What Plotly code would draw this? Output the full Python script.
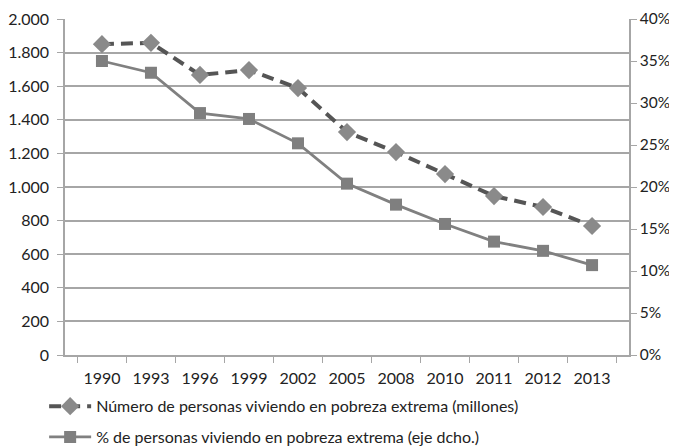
import plotly.graph_objects as go

years = ["1990", "1993", "1996", "1999", "2002", "2005", "2008", "2010", "2011", "2012", "2013"]
personas_millones = [1850, 1858, 1667, 1696, 1589, 1327, 1208, 1077, 946, 881, 768]
porcentaje = [35.0, 33.6, 28.8, 28.1, 25.2, 20.4, 17.9, 15.6, 13.5, 12.4, 10.7]

name1 = "Número de personas viviendo en pobreza extrema (millones)"
name2 = "% de personas viviendo en pobreza extrema (eje dcho.)"

FONT = "Lato, Open Sans, sans-serif"
TXT = "#222222"
GRID = "#a6a6a6"

fig = go.Figure()
fig.add_trace(go.Scatter(
    x=years, y=personas_millones, name=name1, mode="lines+markers", legendgroup="a",
    line=dict(color="#555555", width=4, dash="12px,7px"),
    marker=dict(symbol="diamond", size=14, color="#8a8a8a"),
    yaxis="y"))
fig.add_trace(go.Scatter(
    x=years, y=porcentaje, name=name2, mode="lines+markers", legendgroup="b",
    line=dict(color="#808080", width=2.8),
    marker=dict(symbol="square", size=12, color="#7f7f7f"),
    yaxis="y2"))

# page body has an 8px margin; compensate so the plot sits where the reference has it
fig.update_layout(
    width=669, height=438,
    margin=dict(l=57, r=48, t=11, b=91, autoexpand=False),
    paper_bgcolor="white", plot_bgcolor="white",
    separators=",.",
    font=dict(family=FONT, size=16, color=TXT),
    showlegend=True,
    legend=dict(orientation="v", x=-0.037, xanchor="left", y=-0.102, yanchor="top",
                font=dict(size=16, color=TXT), tracegroupgap=7, itemwidth=42,
                bgcolor="rgba(0,0,0,0)"),
    xaxis=dict(type="category", showgrid=False, showline=True, linecolor=GRID, linewidth=1.5,
               ticks="outside", tickson="boundaries", ticklen=6, tickcolor=GRID,
               ticklabelstandoff=8, ticklabeloverflow="allow",
               tickfont=dict(size=16, color=TXT)),
    yaxis=dict(range=[0, 2000], dtick=200, tickformat=",.0f", showgrid=True, gridcolor=GRID,
               gridwidth=1.5, showline=True, linecolor=GRID, linewidth=1.5, ticks="outside",
               ticklen=6, tickcolor=GRID, zeroline=False, ticklabelstandoff=5,
               ticklabeloverflow="allow", tickfont=dict(size=16, color=TXT)),
    yaxis2=dict(range=[0, 40], dtick=5, ticksuffix="%", overlaying="y", side="right",
                showgrid=False, showline=True, linecolor=GRID, linewidth=1.5, ticks="outside",
                ticklen=6, tickcolor=GRID, zeroline=False, ticklabelstandoff=0,
                ticklabeloverflow="allow", tickfont=dict(size=15.5, color=TXT)),
)

fig.write_html("out.html")
